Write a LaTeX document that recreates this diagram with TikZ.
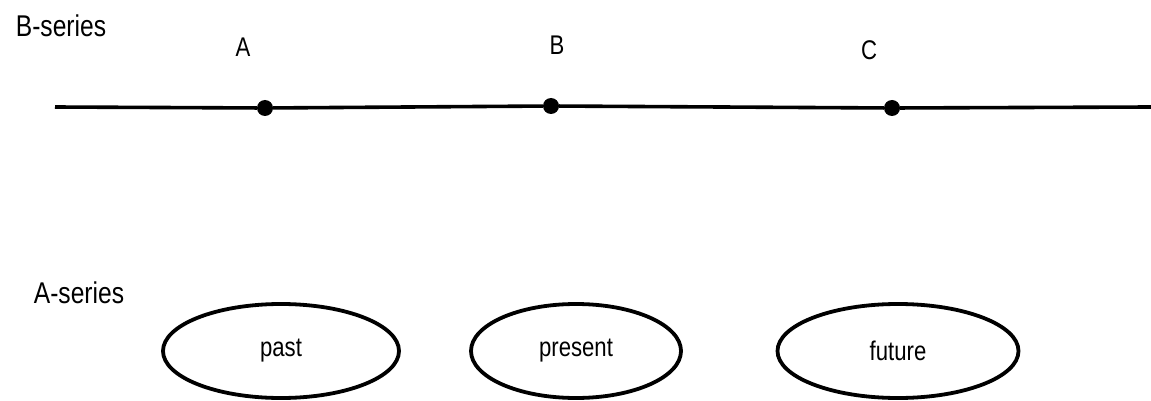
\documentclass[tikz,border=0pt]{standalone}
\usepackage{fontspec}
\setmainfont{Liberation Sans}
\usetikzlibrary{shapes.geometric}
% narrow, tall lettering
\newcommand\narrowtxt[1]{\scalebox{0.82}[1]{#1}}
\begin{document}
\begin{tikzpicture}[x=1pt,y=-1pt,
  lbl/.style={font=\fontsize{30}{32}\selectfont, inner sep=0pt, anchor=center},
  letter/.style={font=\fontsize{27}{29}\selectfont, inner sep=0pt, anchor=center},
  event/.style={circle, fill=black, draw=none, minimum size=16pt, inner sep=0pt},
  period/.style={ellipse, draw=black, line width=3.8pt, inner sep=0pt,
                 minimum height=94pt, font=\fontsize{27}{29}\selectfont},
  timeline/.style={line width=3.6pt}
]
\useasboundingbox (0,0) rectangle (1151,401);

% B-series: ordered events on a line
\node[lbl] (bs) at (61,26) {\narrowtxt{B-series}};
\coordinate (ls) at (55,107);
\coordinate (le) at (1151,107);
\node[event] (ea) at (265,108) {};
\node[event] (eb) at (551,106) {};
\node[event] (ec) at (892,108) {};
\draw[timeline] (ls) -- (ea) -- (eb) -- (ec) -- (le);
\node[letter] (la) at (243,47) {\narrowtxt{A}};
\node[letter] (lb) at (557,45) {\narrowtxt{B}};
\node[letter] (lc) at (869,50) {\narrowtxt{C}};

% A-series: past, present, future
\node[lbl] (as) at (79,293) {\narrowtxt{A-series}};
\node[period, minimum width=236pt] (past) at (281,351) {\narrowtxt{past}};
\node[period, minimum width=210pt] (pres) at (576,351) {\narrowtxt{present}};
\node[period, minimum width=241pt] (fut) at (898,351) {\narrowtxt{future}};
\end{tikzpicture}
\end{document}
